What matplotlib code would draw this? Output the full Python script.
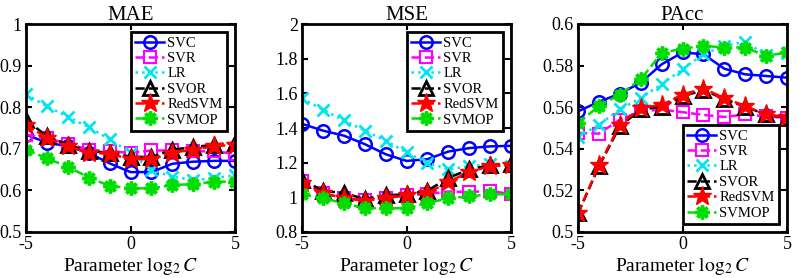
import matplotlib
matplotlib.use('Agg')
import matplotlib.pyplot as plt
import numpy as np
from matplotlib.ticker import FuncFormatter

plt.rcParams['font.family'] = ['Liberation Serif', 'DejaVu Serif']
plt.rcParams['mathtext.fontset'] = 'stix'
plt.rcParams['axes.unicode_minus'] = False

logC = [-5, -4, -3, -2, -1, 0, 1, 2, 3, 4, 5]
methods = ['SVC', 'SVR', 'LR', 'SVOR', 'RedSVM', 'SVMOP']

mae = {
    'SVC':    [0.734, 0.715, 0.706, 0.690, 0.665, 0.644, 0.644, 0.664, 0.669, 0.671, 0.671],
    'SVR':    [0.734, 0.726, 0.712, 0.698, 0.694, 0.690, 0.696, 0.696, 0.694, 0.694, 0.688],
    'LR':     [0.831, 0.802, 0.777, 0.752, 0.723, 0.691, 0.649, 0.633, 0.625, 0.629, 0.637],
    'SVOR':   [0.770, 0.730, 0.710, 0.694, 0.691, 0.681, 0.680, 0.698, 0.704, 0.710, 0.715],
    'RedSVM': [0.758, 0.726, 0.706, 0.691, 0.688, 0.675, 0.675, 0.691, 0.698, 0.706, 0.710],
    'SVMOP':  [0.698, 0.677, 0.657, 0.631, 0.611, 0.605, 0.605, 0.613, 0.615, 0.621, 0.621],
}
mse = {
    'SVC':    [1.424, 1.385, 1.356, 1.307, 1.249, 1.210, 1.220, 1.264, 1.284, 1.294, 1.297],
    'SVR':    [1.093, 1.024, 0.995, 0.985, 0.995, 1.015, 1.018, 1.034, 1.030, 1.038, 1.018],
    'LR':     [1.571, 1.506, 1.444, 1.385, 1.327, 1.259, 1.200, 1.161, 1.180, 1.190, 1.180],
    'SVOR':   [1.102, 1.038, 1.024, 0.991, 1.011, 1.018, 1.038, 1.112, 1.161, 1.186, 1.194],
    'RedSVM': [1.083, 1.024, 0.995, 0.980, 0.995, 1.011, 1.024, 1.089, 1.147, 1.180, 1.186],
    'SVMOP':  [1.018, 0.995, 0.966, 0.937, 0.937, 0.937, 0.966, 0.995, 1.005, 1.018, 1.018],
}
pacc = {
    'SVC':    [0.558, 0.5626, 0.5665, 0.5718, 0.5806, 0.5863, 0.5855, 0.5785, 0.5758, 0.5750, 0.5742],
    'SVR':    [0.5476, 0.5473, 0.5540, 0.5580, 0.5589, 0.5576, 0.5563, 0.5553, 0.5565, 0.5556, 0.5548],
    'LR':     [0.5456, 0.5516, 0.5589, 0.5645, 0.5710, 0.5782, 0.5855, 0.5895, 0.5915, 0.5850, 0.5860],
    'SVOR':   [0.5089, 0.5315, 0.5508, 0.5589, 0.5602, 0.5653, 0.5682, 0.5640, 0.5602, 0.5565, 0.5548],
    'RedSVM': [0.5090, 0.5320, 0.5516, 0.5597, 0.5610, 0.5661, 0.5689, 0.5645, 0.5605, 0.5565, 0.5553],
    'SVMOP':  [0.5524, 0.5605, 0.5661, 0.5734, 0.5860, 0.5882, 0.5895, 0.5887, 0.5887, 0.5847, 0.5863],
}

styles = {
    'SVC':    dict(color='#0000ff', ls='-', marker='o', mfc='none', ms=9, mew=1.8),
    'SVR':    dict(color='#ff00ff', ls='--', marker='s', mfc='none', ms=8, mew=1.5),
    'LR':     dict(color='#00e5ee', ls=':', marker='x', ms=9, mew=2),
    'SVOR':   dict(color='black', ls='--', marker='^', mfc='none', ms=10, mew=2),
    'RedSVM': dict(color='red', ls='--', marker='*', mfc='red', ms=14, mew=1),
    'SVMOP':  dict(color='#00dd00', ls='--', marker=(8, 2, 0), ms=10, mew=2.5),
}

fig = plt.figure(figsize=(7.99, 2.78), dpi=100)
bottom = 1 - 232 / 278
height = (232 - 24) / 278
width = 209 / 799
lefts = [26 / 799, 302 / 799, 578 / 799]

panels = [
    ('MAE', mae, (0.5, 1.0), np.arange(0.5, 1.01, 0.1), 'upper right'),
    ('MSE', mse, (0.8, 2.0), np.arange(0.8, 2.01, 0.2), 'upper right'),
    ('PAcc', pacc, (0.5, 0.6), np.arange(0.5, 0.601, 0.02), 'lower right'),
]

for left, (title, data, ylim, yticks, loc) in zip(lefts, panels):
    ax = fig.add_axes([left, bottom, width, height])
    for m in methods:
        ax.plot(logC, data[m], lw=1.8, label=m, **styles[m])
    ax.set_xlim(-5, 5)
    ax.set_ylim(*ylim)
    ax.set_xticks([-5, 0, 5])
    ax.set_yticks(yticks)
    ax.yaxis.set_major_formatter(FuncFormatter(lambda v, p: '%g' % round(v, 4)))
    ax.tick_params(direction='in', top=True, right=True, length=4, width=1.5,
                   labelsize=13, pad=3)
    for s in ax.spines.values():
        s.set_linewidth(2)
    ax.set_title(title, fontsize=15, pad=3)
    ax.set_xlabel(r'Parameter $\log_2 C$', fontsize=14, labelpad=1)
    leg = ax.legend(loc=loc, fontsize=10.5, fancybox=False, framealpha=1,
                    handlelength=2.0, borderpad=0.3, labelspacing=0.15,
                    handletextpad=0.2, borderaxespad=0.55)
    leg.get_frame().set_edgecolor('black')
    leg.get_frame().set_linewidth(2)

plt.savefig('out.png', dpi=100)
